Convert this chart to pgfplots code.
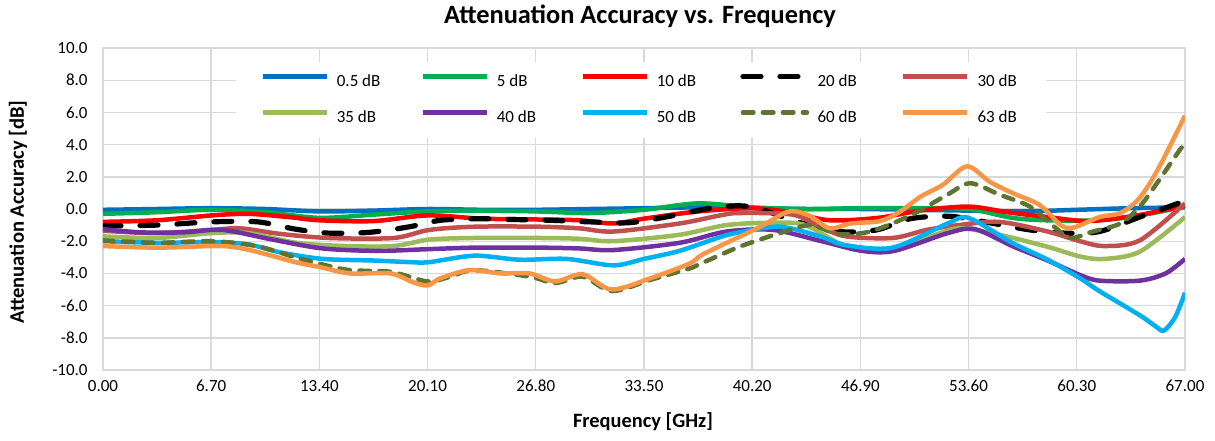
\documentclass[border=0pt]{standalone}
\usepackage{fontspec}
\setmainfont{Carlito}
\usepackage{pgfplots}
\pgfplotsset{compat=1.18}
\definecolor{gridgray}{HTML}{D9D9D9}
\definecolor{cA}{HTML}{0070C0}
\definecolor{cB}{HTML}{00B050}
\definecolor{cC}{HTML}{FF0000}
\definecolor{cE}{HTML}{C0504D}
\definecolor{cF}{HTML}{9BBB59}
\definecolor{cG}{HTML}{7030A0}
\definecolor{cH}{HTML}{00B0F0}
\definecolor{cI}{RGB}{94,116,48}
\definecolor{cJ}{HTML}{F79646}
\begin{document}
\begin{tikzpicture}
\begin{axis}[
  scale only axis, width=541pt, height=161pt,
  xmin=0, xmax=67, ymin=-10, ymax=10,
  xtick={0,6.7,13.4,20.1,26.8,33.5,40.2,46.9,53.6,60.3,67},
  ytick={-10,-8,-6,-4,-2,0,2,4,6,8,10},
  grid=major,
  major grid style={draw=gridgray, line width=0.7pt},
  axis line style={draw=gridgray, line width=0.7pt},
  major tick length=0pt,
  /pgf/number format/assume math mode=true,
  ticklabel style={font=\fontsize{8.5}{10}\selectfont, inner sep=0pt},
  xticklabel style={anchor=north, yshift=-4.8pt, /pgf/number format/.cd, fixed, fixed zerofill, precision=2},
  yticklabel style={anchor=east, xshift=-7.5pt, /pgf/number format/.cd, fixed, fixed zerofill, precision=1},
  every axis plot/.append style={line width=2.25pt, smooth, line join=round},
  legend columns=5,
  legend cell align=left,
  legend image code/.code={\draw[#1] (0pt,2.8pt) -- (32pt,2.8pt);},
  legend style={at={(axis description cs:0.1229,0.958)}, anchor=north west,
    draw=none, fill=white, inner xsep=12pt, inner ysep=6pt,
    column sep=0pt, row sep=10pt,
    nodes={inner sep=0pt, font=\fontsize{8.5}{10}\selectfont, text height=6pt, text depth=2pt}},
]
\addplot[cA] coordinates {(0,-0.05)(3.35,0.0)(6.7,0.05)(10.05,0.0)(13.4,-0.15)(16.75,-0.1)(20.1,0.0)(23.45,-0.05)(26.8,-0.05)(30.15,0.0)(33.5,0.05)(36.85,0.1)(40.2,0.05)(43.55,0.0)(46.9,0.0)(50.25,-0.05)(53.6,-0.1)(56.95,-0.15)(60.3,-0.05)(63.65,0.05)(67,0.1)};
\addlegendentry{\hspace{4pt}\makebox[41.75pt][l]{0.5 dB}}
\addplot[cB] coordinates {(0,-0.3)(3.35,-0.2)(6.7,-0.05)(10.05,-0.2)(13.4,-0.55)(16.75,-0.35)(20.1,-0.15)(23.45,-0.1)(26.8,-0.15)(30.15,-0.25)(33.5,-0.05)(36.85,0.35)(40.2,0.1)(43.55,0.0)(46.9,0.05)(50.25,0.05)(53.6,0.0)(56.3,-0.55)(58.5,-0.7)(61.7,-0.7)(64.2,-0.4)(67,0.15)};
\addlegendentry{\hspace{4pt}\makebox[41.75pt][l]{5 dB}}
\addplot[cC] coordinates {(0,-0.8)(3.35,-0.7)(6.7,-0.4)(9,-0.3)(11.5,-0.5)(13.4,-0.7)(16.75,-0.75)(20.1,-0.4)(23.45,-0.6)(26.8,-0.65)(29.5,-0.7)(31.6,-0.9)(33.5,-0.6)(36.85,-0.15)(40.2,0.05)(42.5,-0.2)(45,-0.7)(48,-0.55)(50.6,-0.1)(53.6,0.15)(56,-0.2)(58.5,-0.5)(61,-0.75)(64,-0.4)(67,0.2)};
\addlegendentry{\hspace{4pt}\makebox[41.75pt][l]{10 dB}}
\addplot[black, line width=2.6pt, line cap=round, dash pattern=on 9pt off 9.5pt] coordinates {(0,-1.05)(3.35,-1.0)(6.7,-0.8)(9.6,-0.8)(11.9,-1.25)(14,-1.5)(16.5,-1.45)(19,-1.1)(20.9,-0.7)(23.3,-0.6)(25.2,-0.65)(27.7,-0.7)(30.2,-0.8)(32.6,-0.85)(35.1,-0.45)(37.6,0.05)(39.4,0.2)(40.7,0.0)(43,-0.8)(45.6,-1.4)(47.9,-1.3)(50,-0.6)(52.4,-0.45)(54.6,-0.8)(57.4,-1.3)(59.6,-1.5)(61.7,-1.4)(64.2,-0.5)(67,0.5)};
\addlegendentry{\hspace{4pt}\makebox[41.75pt][l]{20 dB}}
\addplot[cE] coordinates {(0,-1.35)(3.35,-1.5)(6.7,-1.3)(8.5,-1.2)(11,-1.55)(14,-1.8)(18,-1.8)(20.2,-1.3)(23,-1.1)(27,-1.1)(29.5,-1.2)(31.6,-1.4)(35.7,-0.9)(38.2,-0.4)(39.4,-0.25)(42.7,-0.35)(44.4,-1.1)(46,-1.7)(48.9,-1.8)(51,-1.3)(53,-1.0)(55.5,-0.8)(58.5,-1.4)(60.5,-2.0)(62,-2.3)(64.2,-1.95)(67,0.35)};
\addlegendentry{\hspace{4pt}\makebox[22pt][l]{30 dB}}
\addplot[cF] coordinates {(0,-1.7)(3.35,-1.8)(6.7,-1.5)(9,-1.5)(12,-2.1)(15,-2.3)(18,-2.3)(20.2,-1.9)(23,-1.8)(27,-1.8)(29.5,-1.85)(31.6,-2.0)(35.7,-1.6)(38.6,-1.0)(41.5,-0.85)(43.5,-1.0)(46,-2.3)(48.9,-2.5)(51,-1.8)(53,-1.2)(55.5,-1.6)(58.5,-2.35)(60.5,-2.95)(62,-3.1)(64.2,-2.65)(67,-0.5)};
\addlegendentry{\hspace{4pt}\makebox[41.75pt][l]{35 dB}}
\addplot[cG] coordinates {(0,-1.25)(2.3,-1.45)(5,-1.45)(7.4,-1.3)(10.5,-1.9)(13.6,-2.45)(17,-2.6)(20,-2.5)(23,-2.4)(27,-2.4)(29.5,-2.45)(31.6,-2.55)(35.7,-2.1)(38.6,-1.4)(41.5,-1.3)(44.5,-2.0)(47,-2.6)(49,-2.6)(52.3,-1.5)(54,-1.25)(56.3,-2.3)(58.5,-3.2)(60.5,-4.1)(61.7,-4.45)(64.2,-4.45)(65.8,-4.0)(67,-3.1)};
\addlegendentry{\hspace{4pt}\makebox[41.75pt][l]{40 dB}}
\addplot[cH] coordinates {(0,-2.0)(3.35,-2.1)(6.7,-2.05)(9,-2.2)(11,-2.7)(13.6,-3.1)(16.75,-3.2)(19,-3.3)(20.2,-3.3)(23,-2.9)(25.8,-3.15)(28.7,-3.1)(31.6,-3.5)(33.5,-3.1)(35.7,-2.6)(38.2,-1.75)(39.4,-1.45)(41.9,-1.1)(44.4,-1.7)(46,-2.25)(48.9,-2.4)(52.3,-0.9)(53.6,-0.55)(56.3,-2.1)(58.5,-3.15)(60.5,-4.3)(61.7,-5.1)(64.2,-6.6)(65.2,-7.3)(65.7,-7.55)(66.4,-6.7)(67,-5.2)};
\addlegendentry{\hspace{4pt}\makebox[41.75pt][l]{50 dB}}
\addplot[cI, line cap=round, dash pattern=on 5.25pt off 4.75pt] coordinates {(0,-1.95)(3.35,-2.1)(6.7,-2.0)(9.5,-2.3)(11.9,-3.0)(13.4,-3.4)(15.3,-3.8)(17.8,-3.9)(20.1,-4.5)(21.5,-4.2)(23,-3.8)(26.4,-4.2)(28,-4.6)(29.7,-4.2)(31.5,-5.1)(33.9,-4.4)(36.3,-3.7)(37,-3.4)(39.4,-2.35)(41.9,-1.5)(43.8,-1.0)(45.5,-1.55)(47.5,-1.4)(50,-0.4)(52.3,0.9)(53.7,1.6)(55.5,0.9)(57.4,0.15)(58.9,-1.1)(59.9,-1.8)(61.3,-1.4)(63,-0.9)(64.2,0.15)(65.4,1.8)(66.7,3.7)(67,4.0)};
\addlegendentry{\hspace{4pt}\makebox[41.75pt][l]{60 dB}}
\addplot[cJ] coordinates {(0,-2.3)(3.35,-2.4)(6.7,-2.3)(8,-2.35)(9.5,-2.65)(11.9,-3.3)(13.4,-3.6)(15.3,-4.0)(17.8,-4.0)(19.2,-4.55)(20.1,-4.75)(20.9,-4.3)(22.7,-3.8)(24.6,-4.0)(26.4,-4.0)(28,-4.5)(29.7,-4.05)(31.5,-5.0)(33.9,-4.3)(36.3,-3.4)(37,-2.9)(38.2,-2.3)(40.7,-1.1)(42.5,-0.15)(43.8,-0.45)(45,-1.2)(46.3,-0.9)(48.1,-0.75)(49.3,-0.2)(50.6,0.75)(52,1.5)(53.5,2.65)(54.9,1.7)(56.3,1.0)(58,0.25)(59.3,-1.0)(60.1,-1.15)(61.7,-0.5)(63,-0.25)(64.2,0.7)(65.4,2.6)(67,5.8)};
\addlegendentry{\hspace{4pt}\makebox[22pt][l]{63 dB}}
\end{axis}
\node[font=\fontsize{13.2}{15}\selectfont\bfseries] at (268.5pt,177pt) {Attenuation Accuracy vs. Frequency};
\node[font=\fontsize{10.3}{12}\selectfont\bfseries, rotate=90] at (-42.5pt,79pt) {Attenuation Accuracy [dB]};
\node[font=\fontsize{10.2}{12}\selectfont\bfseries] at (270pt,-26pt) {Frequency [GHz]};
\pgfresetboundingbox
\path (-51.5pt,-35pt) rectangle (556pt,185pt);
\end{tikzpicture}
\end{document}
